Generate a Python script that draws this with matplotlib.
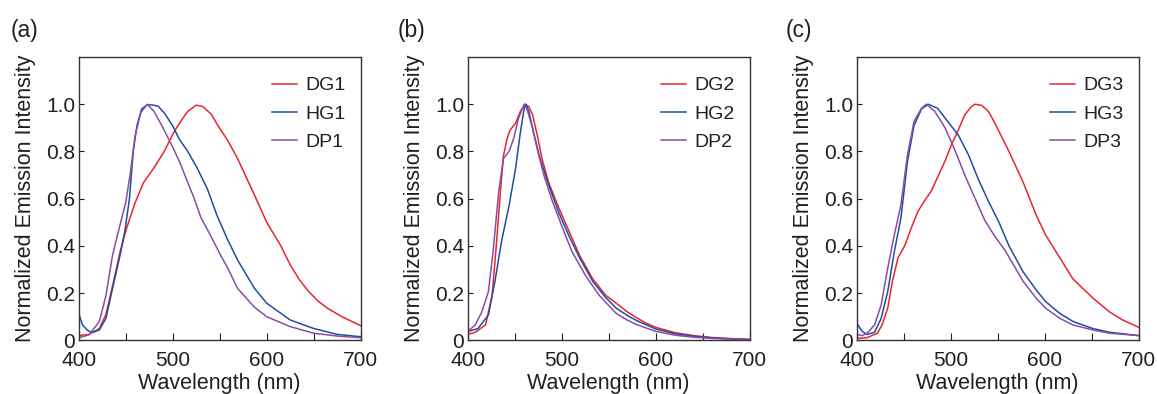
import matplotlib
matplotlib.use("Agg")
import matplotlib.pyplot as plt

plt.rcParams['font.family'] = ['Liberation Sans', 'DejaVu Sans']

# couleurs des courbes
c_red = "#e8262d"
c_blue = "#1f4ea0"
c_purple = "#8a4ca6"
c_txt = "#231f20"

# panneau (a)
wl_DG1 = [400, 411, 422, 429, 436, 444, 451, 460, 469, 480, 491, 501, 509, 516, 525, 532, 541,
          548, 558, 569, 587, 600, 615, 625, 635, 645, 655, 665, 680, 700]
DG1 = [0.02, 0.025, 0.05, 0.11, 0.23, 0.375, 0.475, 0.583, 0.668, 0.73, 0.80, 0.88, 0.93, 0.97, 0.996, 0.99, 0.958,
       0.91, 0.85, 0.77, 0.615, 0.50, 0.40, 0.32, 0.255, 0.205, 0.165, 0.135, 0.10, 0.062]
wl_HG1 = [400, 404, 410, 415, 422, 429, 436, 444, 449, 454, 458, 462, 467, 473, 480, 485, 492, 500, 507, 516,
          526, 537, 547, 558, 569, 587, 600, 625, 650, 675, 700]
HG1 = [0.114, 0.065, 0.04, 0.034, 0.044, 0.093, 0.22, 0.36, 0.46, 0.60, 0.80, 0.91, 0.98, 0.998, 0.996, 0.99, 0.958, 0.908, 0.852, 0.80,
       0.73, 0.64, 0.53, 0.43, 0.34, 0.22, 0.157, 0.086, 0.05, 0.025, 0.015]
wl_DP1 = [400, 411, 422, 429, 436, 444, 450, 455, 460, 466, 473, 480, 487, 494, 501, 509, 516, 523, 530, 540,
          551, 558, 569, 587, 600, 625, 650, 675, 700]
DP1 = [0.011, 0.023, 0.08, 0.19, 0.36, 0.49, 0.583, 0.71, 0.866, 0.964, 1.0, 0.97, 0.92, 0.866, 0.81, 0.74, 0.668, 0.60, 0.52, 0.446,
       0.36, 0.31, 0.22, 0.14, 0.10, 0.058, 0.03, 0.018, 0.011]

# panneau (b)
wl_DG2 = [400, 408, 419, 426, 431, 435, 438, 442, 445, 451, 456, 461, 465, 469, 474, 479, 486, 497, 508, 519,
          533, 547, 558, 570, 580, 590, 600, 620, 640, 660, 680, 700]
DG2 = [0.025, 0.034, 0.065, 0.19, 0.43, 0.64, 0.78, 0.856, 0.89, 0.92, 0.97, 1.0, 0.99, 0.955, 0.87, 0.77, 0.67, 0.56, 0.46, 0.36,
       0.26, 0.19, 0.157, 0.12, 0.095, 0.072, 0.055, 0.033, 0.02, 0.012, 0.007, 0.004]
wl_HG2 = [400, 411, 422, 429, 436, 444, 451, 456, 460, 462, 465, 470, 477, 486, 497, 508, 519, 533, 547, 558,
          570, 580, 600, 620, 640, 660, 700]
HG2 = [0.037, 0.05, 0.107, 0.25, 0.42, 0.57, 0.73, 0.88, 0.98, 1.0, 0.97, 0.88, 0.77, 0.66, 0.54, 0.44, 0.35, 0.25, 0.18, 0.136,
       0.105, 0.083, 0.048, 0.028, 0.017, 0.01, 0.003]
wl_DP2 = [400, 408, 415, 422, 427, 433, 438, 444, 449, 454, 460, 463, 469, 474, 481, 490, 501, 511, 526, 540,
          558, 570, 580, 600, 620, 640, 660, 700]
DP2 = [0.037, 0.065, 0.12, 0.206, 0.375, 0.63, 0.77, 0.80, 0.856, 0.94, 1.0, 0.98, 0.9, 0.81, 0.70, 0.59, 0.475, 0.375, 0.27, 0.19,
       0.114, 0.085, 0.066, 0.038, 0.022, 0.013, 0.008, 0.002]

# panneau (c)
wl_DG3 = [400, 411, 422, 427, 433, 438, 444, 451, 458, 465, 472, 479, 486, 494, 501, 508, 515, 522, 526, 533,
          540, 547, 562, 577, 591, 601, 616, 630, 651, 669, 683, 700]
DG3 = [0.008, 0.011, 0.03, 0.065, 0.136, 0.25, 0.35, 0.40, 0.475, 0.545, 0.59, 0.63, 0.69, 0.76, 0.83, 0.89, 0.955, 0.99, 1.0, 0.995,
       0.97, 0.92, 0.80, 0.67, 0.53, 0.446, 0.35, 0.26, 0.18, 0.12, 0.086, 0.055]
wl_HG3 = [400, 406, 411, 419, 426, 433, 440, 447, 454, 461, 469, 476, 486, 497, 508, 519, 529, 540, 551, 562,
          577, 591, 601, 616, 630, 651, 669, 700]
HG3 = [0.072, 0.037, 0.025, 0.034, 0.093, 0.206, 0.375, 0.517, 0.757, 0.91, 0.98, 1.0, 0.983, 0.926, 0.87, 0.785, 0.686, 0.59, 0.503, 0.40,
       0.29, 0.213, 0.164, 0.114, 0.08, 0.05, 0.034, 0.02]
wl_DP3 = [400, 406, 411, 419, 426, 433, 440, 447, 454, 461, 469, 474, 483, 494, 504, 515, 526, 536, 547, 558,
          577, 591, 601, 616, 630, 651, 669, 700]
DP3 = [0.025, 0.02, 0.03, 0.065, 0.15, 0.305, 0.446, 0.573, 0.785, 0.927, 0.983, 1.0, 0.97, 0.9, 0.81, 0.70, 0.60, 0.51, 0.44, 0.38,
       0.25, 0.178, 0.136, 0.093, 0.065, 0.044, 0.03, 0.02]

panels = [
    ("(a)", [(wl_DG1, DG1, "DG1", c_red), (wl_HG1, HG1, "HG1", c_blue), (wl_DP1, DP1, "DP1", c_purple)]),
    ("(b)", [(wl_DG2, DG2, "DG2", c_red), (wl_HG2, HG2, "HG2", c_blue), (wl_DP2, DP2, "DP2", c_purple)]),
    ("(c)", [(wl_DG3, DG3, "DG3", c_red), (wl_HG3, HG3, "HG3", c_blue), (wl_DP3, DP3, "DP3", c_purple)]),
]

x_ticks = [400, 450, 500, 550, 600, 650, 700]
x_ticklabels = ["400", "", "500", "", "600", "", "700"]
y_ticks = [0, 0.2, 0.4, 0.6, 0.8, 1.0]
y_ticklabels = ["0", "0.2", "0.4", "0.6", "0.8", "1.0"]

W, H = 1157, 394
fig = plt.figure(figsize=(W / 100, H / 100), dpi=100)

lefts = [78.7, 467.7, 856.7]
label_x = [11, 398, 786]

for k, (lab, series) in enumerate(panels):
    ax = fig.add_axes([lefts[k] / W, (H - 340.3) / H, 282 / W, 283.3 / H])
    for wl, val, name, col in series:
        ax.plot(wl, val, color=col, lw=1.1, label=name)

    ax.set_xlim(400, 700)
    ax.set_ylim(0, 1.2)
    ax.set_xticks(x_ticks)
    ax.set_xticklabels(x_ticklabels)
    ax.set_yticks(y_ticks)
    ax.set_yticklabels(y_ticklabels)
    ax.tick_params(axis="x", direction="in", length=4.8, width=0.8, pad=7.5, labelsize=15, colors=c_txt)
    ax.tick_params(axis="y", direction="in", length=3.3, width=0.8, pad=2.5, labelsize=15, colors=c_txt)
    for sp in ax.spines.values():
        sp.set_linewidth(1.0)
        sp.set_color("#333333")

    ax.set_xlabel("Wavelength (nm)", fontsize=15.5, color=c_txt)
    ax.set_ylabel("Normalized Emission Intensity", fontsize=15.5, color=c_txt)
    ax.xaxis.set_label_coords(0.5, -0.115)
    ax.yaxis.set_label_coords(-0.152, 0.5)

    leg = ax.legend(loc="upper left", bbox_to_anchor=(0.687, 0.93), frameon=False, fontsize=14,
                    handlelength=1.25, handletextpad=0.45, labelspacing=0.55, borderpad=0, borderaxespad=0)
    for t in leg.get_texts():
        t.set_color(c_txt)

    fig.text(label_x[k] / W, 1 - 31 / H, lab, fontsize=16.5, va="center", ha="left", color=c_txt)

fig.savefig("out.png", dpi=100)
